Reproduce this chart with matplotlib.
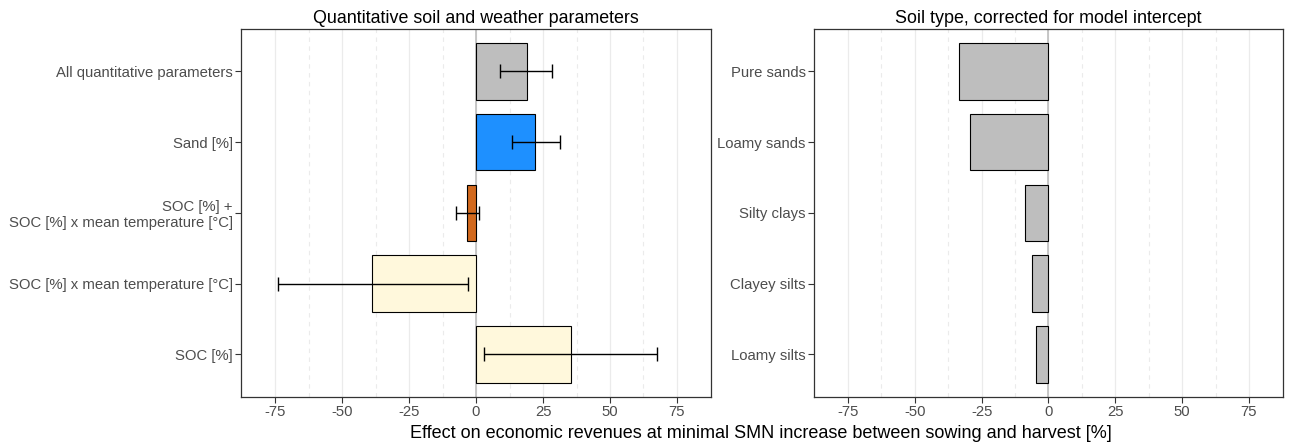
import matplotlib.pyplot as plt
import numpy as np

plt.rcParams['font.family'] = ['Liberation Sans', 'DejaVu Sans']
plt.rcParams['axes.unicode_minus'] = False

# quantitative soil and weather parameters (top to bottom)
param_labels = ['All quantitative parameters', 'Sand [%]',
                'SOC [%] +\nSOC [%] x mean temperature [°C]',
                'SOC [%] x mean temperature [°C]', 'SOC [%]']
param_effect = [19.0, 22.0, -3.4, -38.8, 35.5]
param_low = [9.0, 13.4, -7.5, -74.0, 3.0]
param_high = [28.4, 31.5, 1.0, -3.0, 67.5]
param_colors = ['#BEBEBE', '#1E90FF', '#D2691E', '#FFF8DC', '#FFF8DC']

# soil types, corrected for model intercept
soil_labels = ['Pure sands', 'Loamy sands', 'Silty clays', 'Clayey silts', 'Loamy silts']
soil_effect = [-33.3, -29.2, -8.6, -6.0, -4.5]

fig = plt.figure(figsize=(12.89, 4.44), dpi=100)
ax1 = fig.add_axes([0.187, 0.106, 0.3646, 0.829])
ax2 = fig.add_axes([0.6315, 0.106, 0.3638, 0.829])


def style_axis(ax, title):
    ax.set_xlim(-87.7, 87.7)
    ax.set_ylim(4.6, -0.6)
    ax.set_xticks([-75, -50, -25, 0, 25, 50, 75])
    ax.set_xticks([-62.5, -37.5, -12.5, 12.5, 37.5, 62.5], minor=True)
    ax.grid(axis='x', which='major', color='#EBEBEB', lw=0.9, zorder=0)
    ax.grid(axis='x', which='minor', color='#EBEBEB', lw=0.8, ls=(0, (4, 4)), zorder=0)
    ax.set_axisbelow(True)
    ax.axvline(0, color='#BEBEBE', lw=1.2, zorder=1)
    ax.tick_params(axis='both', which='major', length=4, width=0.8, color='#333333',
                   labelcolor='#4D4D4D', labelsize=10.7, pad=2)
    ax.tick_params(axis='x', which='minor', length=0)
    for s in ax.spines.values():
        s.set_color('#333333')
        s.set_linewidth(0.9)
    ax.set_title(title, fontsize=12.9, color='black', pad=4)


y = np.arange(len(param_labels))
ax1.barh(y, param_effect, height=0.8, color=param_colors, edgecolor='black', lw=0.8, zorder=2)
eff = np.array(param_effect)
err = [eff - np.array(param_low), np.array(param_high) - eff]
ax1.errorbar(param_effect, y, xerr=err, fmt='none', ecolor='black', elinewidth=1.0,
             capsize=5, capthick=1.0, zorder=3)
ax1.set_yticks(y)
ax1.set_yticklabels(param_labels, linespacing=1.15)
style_axis(ax1, 'Quantitative soil and weather parameters')

y2 = np.arange(len(soil_labels))
ax2.barh(y2, soil_effect, height=0.8, color='#BEBEBE', edgecolor='black', lw=0.8, zorder=2)
ax2.set_yticks(y2)
ax2.set_yticklabels(soil_labels)
style_axis(ax2, 'Soil type, corrected for model intercept')

fig.text(0.59, 0.005, 'Effect on economic revenues at minimal SMN increase between sowing and harvest [%]',
         ha='center', va='bottom', fontsize=13, color='black')

fig.savefig('out.png', dpi=100)
